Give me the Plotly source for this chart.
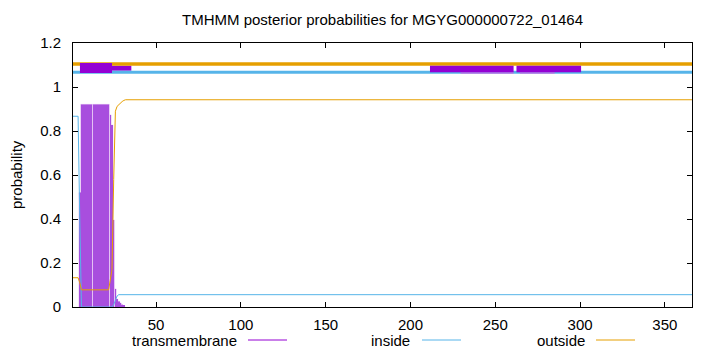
import plotly.graph_objects as go

# ---------------- data ----------------
seq_len = 366
title_text = "TMHMM posterior probabilities for MGYG000000722_01464"

tm_residues = [5, 6, 7, 8, 9, 10, 11, 12, 13, 14, 15, 16, 17, 18, 19, 20, 21, 22,
               23, 24, 25, 26, 27, 28, 29, 30, 31]
tm_prob = [0.52, 0.921, 0.921, 0.921, 0.921, 0.921, 0.921, 0.921, 0.921, 0.921,
           0.921, 0.921, 0.921, 0.921, 0.921, 0.921, 0.921, 0.921,
           0.873, 0.827, 0.395, 0.082, 0.036, 0.025, 0.018, 0.01, 0.005]

inside_x = [1, 4, 5, 6, 24, 25, 26, 27, 28, 366]
inside_y = [0.867, 0.867, 0.40, 0.0, 0.0, 0.01, 0.03, 0.05, 0.056, 0.056]

outside_x = [1, 4, 5, 6, 22, 23, 24, 25, 26, 27, 28, 29, 30, 31, 32, 366]
outside_y = [0.133, 0.133, 0.11, 0.078, 0.078, 0.125, 0.17, 0.58, 0.89, 0.912,
             0.92, 0.926, 0.934, 0.939, 0.942, 0.942]

# topology strip at the top: (start, end, y_low, y_high)
outside_band = (1, 366, 1.097, 1.112)
inside_band = (1, 366, 1.0605, 1.074)
tm_under = [(24, 35.4, 1.074, 1.097)]
tm_over = [(5.1, 24, 1.0636, 1.109), (211.5, 260.8, 1.067, 1.097), (262.5, 300.6, 1.067, 1.097)]
tm_faint = [(229.5, 260.8, 1.0605, 1.067), (264.5, 285, 1.0605, 1.067)]

x_ticks = [50, 100, 150, 200, 250, 300, 350]
y_ticks = [0, 0.2, 0.4, 0.6, 0.8, 1, 1.2]
y_tick_text = ["0", "0.2", "0.4", "0.6", "0.8", "1", "1.2"]
legend_names = ["transmembrane", "inside", "outside"]

# ---------------- style ----------------
PURPLE = "#9400d3"
BLUE = "#56b4e9"
ORANGE = "#e69f00"
FONT = "Liberation Sans, Arial, sans-serif"
FS = 15

W, H = 720, 352
L, R, T, B = 73, 28, 43, 45
pw, ph = W - L - R, H - T - B

fig = go.Figure()
fig.add_trace(go.Bar(x=tm_residues, y=tm_prob, width=1.0,
                     marker=dict(color="#e2bdf4", line=dict(width=0.6, color="#e2bdf4")),
                     showlegend=False, hoverinfo="skip"))
fig.add_trace(go.Bar(x=tm_residues, y=tm_prob, width=0.35,
                     marker=dict(color="#a84ede", line=dict(width=0)),
                     name="transmembrane", showlegend=False))
fig.add_trace(go.Scatter(x=inside_x, y=inside_y, mode="lines",
                         line=dict(color=BLUE, width=1), name="inside", showlegend=False))
fig.add_trace(go.Scatter(x=outside_x, y=outside_y, mode="lines",
                         line=dict(color=ORANGE, width=1), name="outside", showlegend=False))

shapes = []
def rect(seg, color):
    x0, x1, y0, y1 = seg
    shapes.append(dict(type="rect", xref="x", yref="y", x0=x0, x1=x1, y0=y0, y1=y1,
                       fillcolor=color, line=dict(width=0), layer="above"))

for s in tm_under:
    rect(s, PURPLE)
rect(outside_band, ORANGE)
rect(inside_band, BLUE)
for s in tm_faint:
    rect(s, "#c27ae4")
for s in tm_over:
    rect(s, PURPLE)

# legend (gnuplot style: text then sample line)
legend_text_right = [238.8, 412, 587]
legend_line = [(248, 287), (422, 461), (596, 635)]
legend_colors = [PURPLE, BLUE, ORANGE]
leg_y = 340
annotations = []
for name, tx, (lx0, lx1), c in zip(legend_names, legend_text_right, legend_line, legend_colors):
    annotations.append(dict(text=name, xref="paper", yref="paper",
                            x=(tx - L) / pw, y=(H - B - leg_y) / ph,
                            xanchor="right", yanchor="middle", showarrow=False,
                            font=dict(family=FONT, size=FS, color="black")))
    shapes.append(dict(type="line", xref="paper", yref="paper",
                       x0=(lx0 - L) / pw, x1=(lx1 - L) / pw,
                       y0=(H - B - leg_y) / ph, y1=(H - B - leg_y) / ph,
                       line=dict(color=c, width=1)))

annotations.append(dict(text="probability", xref="paper", yref="paper",
                        x=(16 - L) / pw, y=0.5, textangle=-90,
                        xanchor="center", yanchor="middle", showarrow=False,
                        font=dict(family=FONT, size=FS, color="black")))
annotations.append(dict(text=title_text, xref="paper", yref="paper",
                        x=0.5, y=(H - B - 19) / ph, xanchor="center", yanchor="middle",
                        showarrow=False, font=dict(family=FONT, size=FS, color="black")))

fig.update_layout(
    width=W, height=H, margin=dict(l=L, r=R, t=T, b=B, pad=0),
    paper_bgcolor="white", plot_bgcolor="white",
    barmode="overlay", showlegend=False,
    shapes=shapes, annotations=annotations,
    font=dict(family=FONT, size=FS, color="black"),
)
fig.update_xaxes(range=[1, seq_len], tickvals=x_ticks, ticks="inside", ticklen=5,
                 tickcolor="black", showline=True, linecolor="black", linewidth=1,
                 mirror="ticks", showgrid=False, zeroline=False,
                 tickfont=dict(family=FONT, size=FS), ticklabelstandoff=4)
fig.update_yaxes(range=[0, 1.2], tickvals=y_ticks, ticktext=y_tick_text,
                 ticks="inside", ticklen=5,
                 tickcolor="black", showline=True, linecolor="black", linewidth=1,
                 mirror="ticks", showgrid=False, zeroline=False,
                 tickfont=dict(family=FONT, size=FS), ticklabelstandoff=8)

fig.write_html("out.html")
